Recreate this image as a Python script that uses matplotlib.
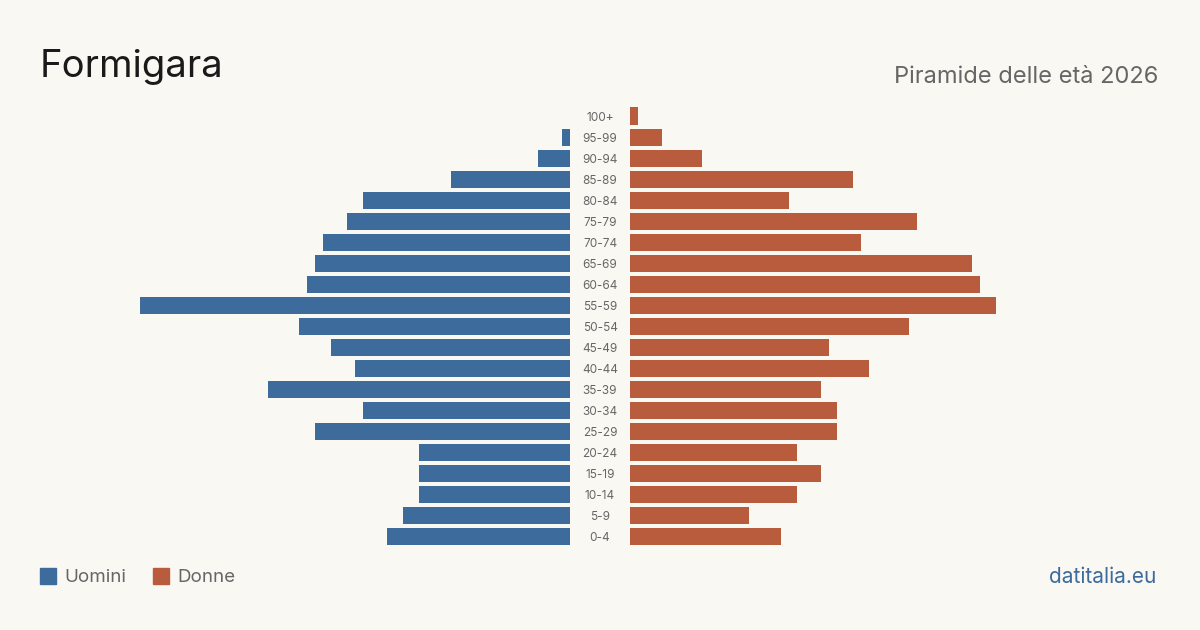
import matplotlib.pyplot as plt

age_groups = ["0-4", "5-9", "10-14", "15-19", "20-24", "25-29", "30-34", "35-39",
              "40-44", "45-49", "50-54", "55-59", "60-64", "65-69", "70-74",
              "75-79", "80-84", "85-89", "90-94", "95-99", "100+"]
uomini = [23, 21, 19, 19, 19, 32, 26, 38, 27, 30, 34, 54, 33, 32, 31, 28, 26, 15, 4, 1, 0]
donne = [19, 15, 21, 24, 21, 26, 26, 24, 30, 25, 35, 46, 44, 43, 29, 36, 20, 28, 9, 4, 1]

bg = "#f9f8f3"
blue = "#3d6b9b"
red = "#b95c3d"
font = ["Inter", "DejaVu Sans"]
plt.rcParams["font.family"] = font

fig = plt.figure(figsize=(12, 6.3), dpi=100, facecolor=bg)

W, H = 1200, 630
top, bottom = 105.5, 546.5
xmax = 530 / 7.96
ax_l = fig.add_axes([40 / W, 1 - bottom / H, 530 / W, (bottom - top) / H])
ax_r = fig.add_axes([630 / W, 1 - bottom / H, 530 / W, (bottom - top) / H])

y = list(range(len(age_groups)))
ax_l.barh(y, uomini, height=17 / 21, color=blue)
ax_r.barh(y, donne, height=17 / 21, color=red)

ax_l.set_xlim(xmax, 0)
ax_r.set_xlim(0, xmax)
for ax in (ax_l, ax_r):
    ax.set_ylim(-0.5, len(age_groups) - 0.5)
    ax.axis("off")
    ax.set_facecolor(bg)

# age labels in the gap between the two halves
for i, lab in enumerate(age_groups):
    ax_r.annotate(lab, xy=(0, i), xytext=(-30, -2), textcoords="offset pixels",
                  ha="center", va="center", fontsize=8.5, color="#666666",
                  annotation_clip=False)

fig.text(40 / W, 1 - 67 / H, "Formigara", fontsize=27.5, color="#1a1a1a",
         ha="left", va="center")
fig.text(1158 / W, 1 - 77 / H, "Piramide delle età 2026", fontsize=17,
         color="#666666", ha="right", va="center")

# legend
fig.patches.append(plt.Rectangle((40 / W, 1 - 584 / H), 16 / W, 16 / H,
                                 transform=fig.transFigure, color=blue))
fig.text(64 / W, 1 - 577 / H, "Uomini", fontsize=13.5, color="#666666",
         ha="left", va="center")
fig.patches.append(plt.Rectangle((153 / W, 1 - 584 / H), 16 / W, 16 / H,
                                 transform=fig.transFigure, color=red))
fig.text(177 / W, 1 - 577 / H, "Donne", fontsize=13.5, color="#666666",
         ha="left", va="center")

fig.text(1156 / W, 1 - 577 / H, "datitalia.eu", fontsize=15, color=blue,
         ha="right", va="center")

fig.savefig("out.png", dpi=100, facecolor=bg)
